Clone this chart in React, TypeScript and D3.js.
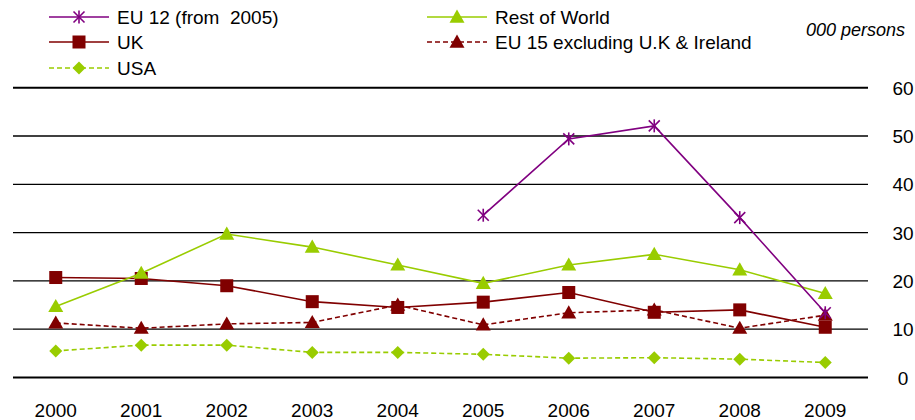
import React from "react";
import * as d3 from "d3";

const years = ["2000","2001","2002","2003","2004","2005","2006","2007","2008","2009"];
const eu12: (number | null)[] = [null, null, null, null, null, 33.6, 49.4, 52.1, 33.1, 13.4];
const restOfWorld = [14.7, 21.6, 29.7, 27.0, 23.3, 19.5, 23.3, 25.5, 22.3, 17.4];
const uk = [20.7, 20.5, 19.0, 15.7, 14.5, 15.6, 17.6, 13.5, 14.0, 10.4];
const eu15 = [11.3, 10.2, 11.1, 11.4, 15.0, 10.9, 13.4, 14.0, 10.2, 12.9];
const usa = [5.5, 6.7, 6.7, 5.2, 5.2, 4.8, 4.0, 4.1, 3.8, 3.1];
const yTicks = [0, 10, 20, 30, 40, 50, 60];

type Series = { name: string; values: (number | null)[]; color: string; dash?: string; marker: string };

const series: Series[] = [
  { name: "EU 12 (from  2005)", values: eu12, color: "#800080", marker: "star" },
  { name: "Rest of World", values: restOfWorld, color: "#99CC00", marker: "triangle" },
  { name: "UK", values: uk, color: "#800000", marker: "square" },
  { name: "EU 15 excluding U.K & Ireland", values: eu15, color: "#800000", dash: "5,3", marker: "triangle" },
  { name: "USA", values: usa, color: "#99CC00", dash: "5,3", marker: "diamond" },
];

const drawOrder = [4, 3, 2, 1, 0];

function Marker({ type, x, y, color }: { type: string; x: number; y: number; color: string }) {
  if (type === "square") return <rect x={x - 6.5} y={y - 6.5} width={13} height={13} fill={color} />;
  if (type === "triangle") {
    const s = 7.5;
    return <path d={`M${x},${y - s} L${x + s},${y + s * 0.75} L${x - s},${y + s * 0.75} Z`} fill={color} />;
  }
  if (type === "diamond") {
    const s = 6.5;
    return <path d={`M${x},${y - s} L${x + s},${y} L${x},${y + s} L${x - s},${y} Z`} fill={color} />;
  }
  const s = 5.5;
  return (
    <g stroke={color} strokeWidth={1.6}>
      <line x1={x - s} y1={y - s} x2={x + s} y2={y + s} />
      <line x1={x - s} y1={y + s} x2={x + s} y2={y - s} />
      <line x1={x} y1={y - s - 1} x2={x} y2={y + s + 1} />
    </g>
  );
}

export default function App() {
  const W = 915, H = 420;
  const left = 13, right = 868;
  const x = d3.scaleBand<string>().domain(years).range([left, right]);
  const y = d3.scaleLinear().domain([0, 60]).range([377.5, 87.7]);
  const cx = (yr: string) => (x(yr) as number) + x.bandwidth() / 2;

  const line = d3
    .line<{ yr: string; v: number | null }>()
    .defined((d) => d.v !== null)
    .x((d) => cx(d.yr))
    .y((d) => y(d.v as number));

  const legendPos = [
    { lx: 49, ly: 17 },
    { lx: 427, ly: 17 },
    { lx: 49, ly: 42 },
    { lx: 427, ly: 42 },
    { lx: 49, ly: 68 },
  ];

  const font = "Liberation Sans, Arial, sans-serif";

  return (
    <svg width={W} height={H} style={{ position: "absolute", left: 0, top: 0, background: "#fff" }} fontFamily={font}>
      {yTicks.map((t) => (
        <g key={t}>
          <line x1={left} x2={right} y1={y(t)} y2={y(t)} stroke="#000" strokeWidth={t === 0 || t === 60 ? 2 : 1.3} />
          <text x={903} y={y(t) + 7} textAnchor="middle" fontSize={19} fill="#000">{t}</text>
        </g>
      ))}
      {years.map((yr) => (
        <text key={yr} x={cx(yr)} y={417} textAnchor="middle" fontSize={19} fill="#000">{yr}</text>
      ))}
      <text x={905} y={36} textAnchor="end" fontSize={18} fontStyle="italic" fill="#000">000 persons</text>

      {drawOrder.map((i) => {
        const s = series[i];
        const pts = years.map((yr, j) => ({ yr, v: s.values[j] }));
        return (
          <g key={s.name}>
            <path d={line(pts) || ""} fill="none" stroke={s.color} strokeWidth={1.6} strokeDasharray={s.dash} />
            {pts.filter((p) => p.v !== null).map((p) => (
              <Marker key={p.yr} type={s.marker} x={cx(p.yr)} y={y(p.v as number)} color={s.color} />
            ))}
          </g>
        );
      })}

      {series.map((s, i) => {
        const { lx, ly } = legendPos[i];
        return (
          <g key={s.name}>
            <line x1={lx} x2={lx + 60} y1={ly} y2={ly} stroke={s.color} strokeWidth={1.6} strokeDasharray={s.dash} />
            <Marker type={s.marker} x={lx + 30} y={ly} color={s.color} />
            <text x={lx + 68} y={ly + 7} fontSize={19} fill="#000" style={{ whiteSpace: "pre" }}>{s.name}</text>
          </g>
        );
      })}
    </svg>
  );
}
